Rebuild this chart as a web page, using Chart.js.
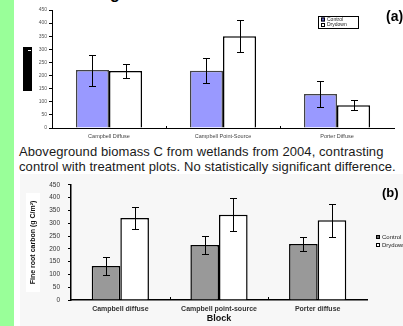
<!DOCTYPE html>
<html>
<head>
<meta charset="utf-8">
<script src="https://cdn.jsdelivr.net/npm/chart.js@4.4.0/dist/chart.umd.min.js"></script>
<style>
  body { margin: 0; width: 403px; height: 326px; overflow: hidden; background: #fff; position: relative;
         font-family: 'Liberation Sans', Arial, sans-serif; }
  .abs { position: absolute; }
  #strip { left: 0; top: 0; width: 14px; height: 326px; background: #99ff99; }
  #cut { left: 110px; top: -14px; font: bold 16px/16px 'Liberation Sans', Arial, sans-serif; color: #000; }
  #blackTitle { left: 23px; top: 47px; width: 9px; height: 44px; background: #000; }
  #blackTitle i { position: absolute; left: 5px; top: 3px; width: 3px; height: 1px; background: #fff; }
  #caption { left: 19px; top: 144px; font-size: 13px; line-height: 15px; letter-spacing: 0.08px; color: #1a1a1a; white-space: nowrap; }
  #panelB { left: 20px; top: 174px; width: 383px; height: 152px; background: #f7f7f7; }
  #titleBoxB { left: 26px; top: 193px; width: 14px; height: 99px; background: #fff; }
  .tag { font-weight: bold; color: #000; }
  #tagA { left: 386px; top: 8px; font-size: 14px; }
  #tagB { left: 382px; top: 185px; font-size: 13px; }
  canvas { position: absolute; }
</style>
</head>
<body>
<div id="strip" class="abs"></div>
<div id="cut" class="abs">g</div>
<div id="blackTitle" class="abs"><i></i></div>
<div id="caption" class="abs">Aboveground biomass C from wetlands from 2004, contrasting<br>control with treatment plots. No statistically significant difference.</div>
<div id="panelB" class="abs"></div>
<div id="titleBoxB" class="abs"></div>
<canvas id="chartA" width="389" height="142" style="left:14px;top:0px;"></canvas>
<canvas id="chartB" width="389" height="153" style="left:14px;top:173px;"></canvas>
<div id="tagA" class="abs tag">(a)</div>
<div id="tagB" class="abs tag">(b)</div>

<script>
// (a) aboveground biomass C
var categoriesA = ['Campbell Diffuse', 'Campbell Point-Source', 'Porter Diffuse'];
var controlA = [221, 218, 130];
var controlErrA = [59, 48, 50];
var drydownA = [217, 350, 87];
var drydownErrA = [27, 61, 20];

// (b) fine root carbon
var categoriesB = ['Campbell diffuse', 'Campbell point-source', 'Porter diffuse'];
var controlB = [133, 215, 219];
var controlErrB = [34, 36, 27];
var drydownB = [321, 333, 312];
var drydownErrB = [44, 64, 64];

var yTicks = [0, 50, 100, 150, 200, 250, 300, 350, 400, 450];

var FONT = "'Liberation Sans', Arial, sans-serif";

// draws the +/- error bars on top of each bar
var errorBars = {
    id: 'errorBars',
    afterDatasetsDraw: function (chart, args, opts) {
        var ctx = chart.ctx;
        var y = chart.scales.y;
        ctx.save();
        ctx.strokeStyle = '#000';
        ctx.lineWidth = 1;
        chart.data.datasets.forEach(function (ds, i) {
            chart.getDatasetMeta(i).data.forEach(function (bar, j) {
                var v = ds.data[j], e = ds.errors[j];
                var top = Math.round(y.getPixelForValue(v + e)) + 0.5;
                var bot = Math.round(y.getPixelForValue(v - e)) + 0.5;
                var x = Math.round(bar.x) + 0.5;
                ctx.beginPath();
                ctx.moveTo(x, top); ctx.lineTo(x, bot);
                ctx.moveTo(x - opts.cap, top); ctx.lineTo(x + opts.cap, top);
                ctx.moveTo(x - opts.cap, bot); ctx.lineTo(x + opts.cap, bot);
                ctx.stroke();
            });
        });
        ctx.restore();
    }
};

// small upward ticks between the categories
var innerTicks = {
    id: 'innerTicks',
    afterDraw: function (chart, args, opts) {
        var x = chart.scales.x, ctx = chart.ctx, yb = chart.chartArea.bottom;
        var half = (x.getPixelForValue(1) - x.getPixelForValue(0)) / 2;
        ctx.save();
        ctx.strokeStyle = '#000';
        ctx.lineWidth = 1;
        for (var i = 1; i < chart.data.labels.length; i++) {
            var px = Math.round(x.getPixelForValue(i) - half) + 0.5;
            ctx.beginPath();
            ctx.moveTo(px, yb);
            ctx.lineTo(px, yb - opts.len);
            ctx.stroke();
        }
        ctx.restore();
    }
};

// little stacked legend, optionally framed
var boxLegend = {
    id: 'boxLegend',
    afterDraw: function (chart, args, o) {
        var ctx = chart.ctx;
        ctx.save();
        if (o.frame) {
            ctx.fillStyle = '#fff';
            ctx.fillRect(o.x, o.y, o.w, o.h);
            ctx.strokeStyle = '#000';
            ctx.lineWidth = 1;
            ctx.strokeRect(o.x + 0.5, o.y + 0.5, o.w, o.h);
        }
        ctx.font = o.size + 'px ' + FONT;
        ctx.textBaseline = 'middle';
        chart.data.datasets.forEach(function (ds, i) {
            var cy = o.y + o.first + i * o.step;
            ctx.fillStyle = o.swatches[i];
            ctx.fillRect(o.x + o.pad, cy - o.box / 2, o.box, o.box);
            ctx.strokeStyle = '#000';
            ctx.strokeRect(o.x + o.pad + 0.5, cy - o.box / 2 + 0.5, o.box - 1, o.box - 1);
            ctx.fillStyle = '#222';
            ctx.fillText(ds.label, o.x + o.pad + o.box + 2, cy);
        });
        ctx.restore();
    }
};

function drawChartA() {
    new Chart(document.getElementById('chartA'), {
        type: 'bar',
        data: {
            labels: categoriesA,
            datasets: [{
                label: 'Control',
                data: controlA,
                errors: controlErrA,
                backgroundColor: '#9999ff',
                borderColor: '#444',
                borderWidth: 1.5
            }, {
                label: 'Drydown',
                data: drydownA,
                errors: drydownErrA,
                backgroundColor: '#ffffff',
                borderColor: '#000',
                borderWidth: 1.5
            }]
        },
        options: {
            responsive: false,
            animation: false,
            layout: { padding: { top: 10, right: 9, left: 0, bottom: 0 } },
            datasets: { bar: { categoryPercentage: 0.58, barPercentage: 1.0 } },
            plugins: {
                legend: { display: false },
                tooltip: { enabled: false },
                errorBars: { cap: 3.5 },
                innerTicks: { len: 2 },
                boxLegend: { frame: true, x: 304, y: 16, w: 40, h: 12, pad: 3, box: 4, size: 5, first: 3.5, step: 5.5,
                             swatches: ['#6666cc', '#ffffff'] }
            },
            scales: {
                x: {
                    afterFit: function (s) { s.height = 14; },
                    grid: { display: true, drawOnChartArea: false, drawTicks: false },
                    border: { color: '#000', width: 1 },
                    ticks: { color: '#444', padding: 5, maxRotation: 0, font: { family: FONT, size: 5.5 } }
                },
                y: {
                    min: 0, max: 450,
                    afterFit: function (s) { s.width = 38; },
                    afterBuildTicks: function (s) { s.ticks = yTicks.map(function (v) { return { value: v }; }); },
                    grid: { drawOnChartArea: false, tickLength: 3, color: '#000' },
                    border: { color: '#000', width: 1 },
                    ticks: { color: '#555', padding: 2, font: { family: FONT, size: 5 } }
                }
            }
        },
        plugins: [errorBars, innerTicks, boxLegend]
    });
}

function drawChartB() {
    new Chart(document.getElementById('chartB'), {
        type: 'bar',
        data: {
            labels: categoriesB,
            datasets: [{
                label: 'Control',
                data: controlB,
                errors: controlErrB,
                backgroundColor: '#999999',
                borderColor: '#000',
                borderWidth: 1.5
            }, {
                label: 'Drydown',
                data: drydownB,
                errors: drydownErrB,
                backgroundColor: '#ffffff',
                borderColor: '#000',
                borderWidth: 1.5
            }]
        },
        options: {
            responsive: false,
            animation: false,
            layout: { padding: { top: 8, right: 36, left: 0, bottom: 0 } },
            datasets: { bar: { categoryPercentage: 0.58, barPercentage: 1.0 } },
            plugins: {
                legend: { display: false },
                tooltip: { enabled: false },
                errorBars: { cap: 3.5 },
                innerTicks: { len: 3 },
                boxLegend: { frame: false, x: 362, y: 60, w: 0, h: 0, pad: 0, box: 4, size: 6, first: 4, step: 8,
                             swatches: ['#666666', '#ffffff'] }
            },
            scales: {
                x: {
                    afterFit: function (s) { s.height = 26; },
                    grid: { display: true, drawOnChartArea: false, drawTicks: false },
                    border: { color: '#000', width: 1.5 },
                    ticks: { color: '#333', padding: 5, maxRotation: 0, font: { family: FONT, size: 7, weight: 'bold' } },
                    title: { display: true, text: 'Block', color: '#111', padding: { top: 0, bottom: 2 },
                             font: { family: FONT, size: 9, weight: 'bold' } }
                },
                y: {
                    min: 0, max: 450,
                    afterFit: function (s) { s.width = 57; },
                    afterBuildTicks: function (s) { s.ticks = yTicks.map(function (v) { return { value: v }; }); },
                    grid: { drawOnChartArea: false, tickLength: 3, color: '#000' },
                    border: { color: '#000', width: 1.5 },
                    ticks: { color: '#333', padding: 8, font: { family: FONT, size: 6.5 } },
                    title: { display: true, text: 'Fine root carbon (g C/m²)', color: '#111', padding: { top: 15, bottom: 0 },
                             font: { family: FONT, size: 7, weight: 'bold' } }
                }
            }
        },
        plugins: [errorBars, innerTicks, boxLegend]
    });
}

window.onload = function () {
    drawChartA();
    drawChartB();
};
</script>
</body>
</html>
